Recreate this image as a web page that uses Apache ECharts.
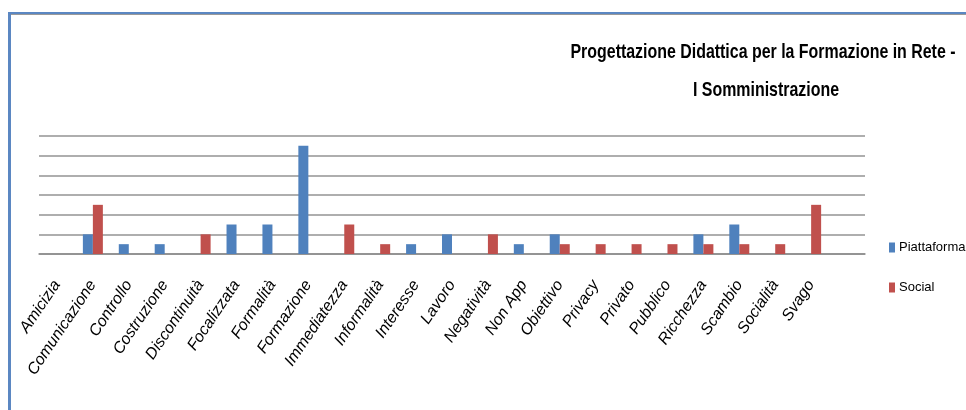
<!DOCTYPE html>
<html>
<head>
<meta charset="utf-8">
<script src="https://cdn.jsdelivr.net/npm/echarts@6/dist/echarts.min.js"></script>
<style>
  html, body { margin: 0; padding: 0; background: #ffffff; }
  #chart { width: 966px; height: 410px; }
</style>
</head>
<body>
<div id="chart"></div>
<script>
// Survey terms (the final slot is left empty on purpose)
const categories = [
  'Amicizia', 'Comunicazione', 'Controllo', 'Costruzione', 'Discontinuità',
  'Focalizzata', 'Formalità', 'Formazione', 'Immediatezza', 'Informalità',
  'Interesse', 'Lavoro', 'Negatività', 'Non App', 'Obiettivo', 'Privacy',
  'Privato', 'Pubblico', 'Ricchezza', 'Scambio', 'Socialità', 'Svago', ''
];
const piattaforma = [0, 2, 1, 1, 0, 3, 3, 11, 0, 0, 1, 2, 0, 1, 2, 0, 0, 0, 2, 3, 0, 0, 0];
const social      = [0, 5, 0, 0, 2, 0, 0, 0, 3, 1, 0, 0, 2, 0, 1, 1, 1, 1, 1, 1, 1, 5, 0];
const seriesNames = ['Piattaforma', 'Social'];
const titleLines = ['Progettazione Didattica per la Formazione in Rete -', 'I Somministrazione'];

const titleFont = 'bold 21px "Liberation Sans", Arial, sans-serif';

// Squeeze the title horizontally so it reads like a condensed face
function condenseFactor(text, font, targetWidth) {
  const ctx = document.createElement('canvas').getContext('2d');
  ctx.font = font;
  return targetWidth / ctx.measureText(text).width;
}
const titleScale = condenseFactor(titleLines[0], titleFont, 385);

const chart = echarts.init(document.getElementById('chart'), null, { renderer: 'canvas' });
chart.setOption({
  animation: false,
  backgroundColor: '#ffffff',
  legend: {
    orient: 'vertical',
    left: 884,
    top: 236,
    itemWidth: 6,
    itemHeight: 10,
    itemGap: 27,
    icon: 'rect',
    data: seriesNames,
    itemStyle: { borderWidth: 0 },
    textStyle: { fontFamily: '"Liberation Sans", Arial, sans-serif', fontSize: 13, color: '#000000', padding: [0, 0, 0, -1] }
  },
  grid: { left: 39, right: 101, top: 136, bottom: 156 },
  xAxis: {
    type: 'category',
    data: categories,
    axisLine: { lineStyle: { color: '#8c8c8c', width: 1.5 } },
    axisTick: { length: 5, lineStyle: { color: '#8c8c8c', width: 1 } },
    axisLabel: {
      rotate: 56,
      interval: 0,
      margin: 28,
      fontFamily: '"Liberation Sans", Arial, sans-serif',
      fontStyle: 'italic',
      fontSize: 16,
      color: '#000000'
    }
  },
  yAxis: {
    type: 'value',
    min: 0,
    max: 12,
    interval: 2,
    axisLine: { show: false },
    axisTick: { show: false },
    axisLabel: { show: false },
    splitLine: { lineStyle: { color: '#939393', width: 1.5 } }
  },
  series: [
    {
      name: seriesNames[0],
      type: 'bar',
      data: piattaforma,
      barWidth: 10,
      barGap: '0%',
      itemStyle: { color: '#4f81bd' }
    },
    {
      name: seriesNames[1],
      type: 'bar',
      data: social,
      barWidth: 10,
      barGap: '0%',
      itemStyle: { color: '#c0504d' }
    }
  ],
  graphic: [
    // frame edges along the top and left side
    { type: 'rect', shape: { x: 8, y: 12, width: 958, height: 2 }, style: { fill: '#5b87c2' } },
    { type: 'rect', shape: { x: 11, y: 14, width: 955, height: 1 }, style: { fill: '#9a9a9a' } },
    { type: 'rect', shape: { x: 8, y: 12, width: 3, height: 398 }, style: { fill: '#5b87c2' } },
    // two-line chart title
    {
      type: 'text', x: 763, y: 52, scaleX: titleScale,
      style: { text: titleLines[0], font: titleFont, fill: '#000000', textAlign: 'center', textVerticalAlign: 'middle' }
    },
    {
      type: 'text', x: 766, y: 90, scaleX: titleScale,
      style: { text: titleLines[1], font: titleFont, fill: '#000000', textAlign: 'center', textVerticalAlign: 'middle' }
    }
  ]
});
</script>
</body>
</html>
